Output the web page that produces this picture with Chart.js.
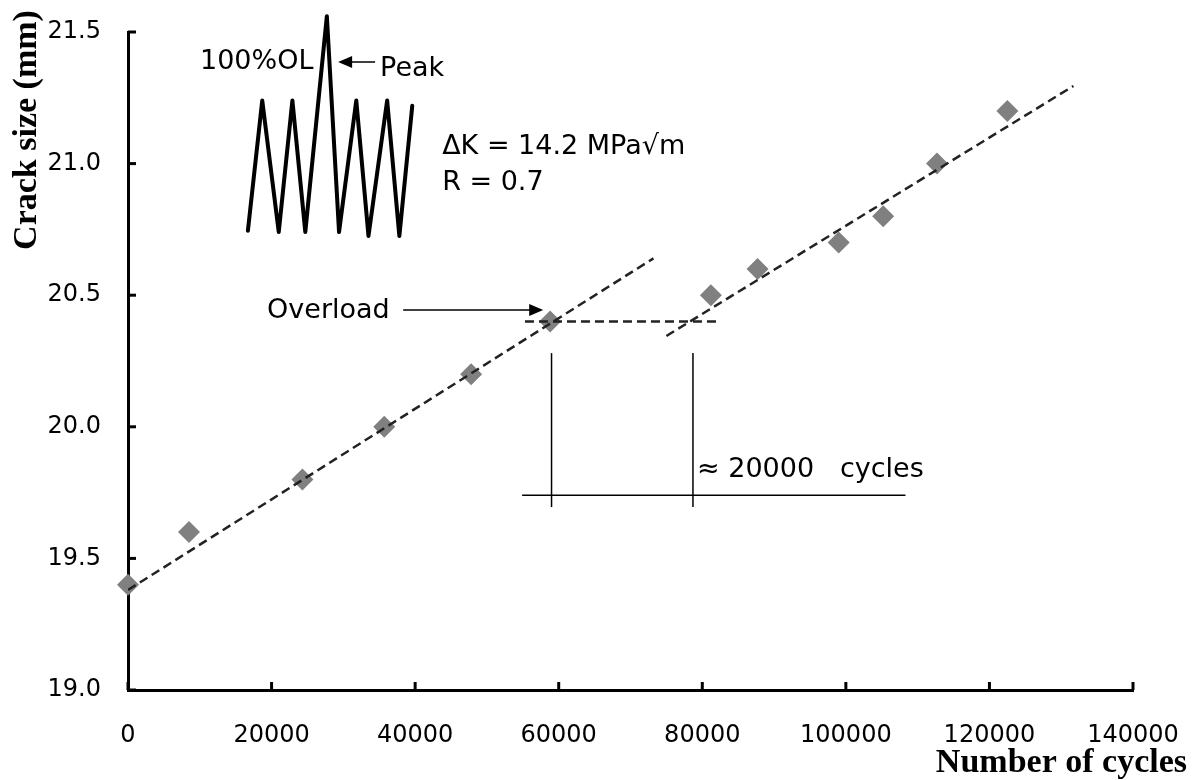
<!DOCTYPE html>
<html>
<head>
<meta charset="utf-8">
<script src="https://cdn.jsdelivr.net/npm/chart.js@4.4.0/dist/chart.umd.min.js"></script>
<style>
  html, body { margin: 0; padding: 0; background: #fff; }
</style>
</head>
<body>
<canvas id="chart" width="1194" height="780"></canvas>
<script>
// measured crack size vs. number of cycles
const cycles    = [0, 8500, 24300, 35700, 47800, 58800, 81200, 87700, 99000, 105200, 112700, 122500];
const crackSize = [19.4, 19.6, 19.8, 20.0, 20.2, 20.4, 20.5, 20.6, 20.7, 20.8, 21.0, 21.2];

// dashed trend lines, before and after the overload
const fitBeforeX = [0, 73200];
const fitBeforeY = [19.38, 20.64];
const fitAfterX  = [75000, 131700];
const fitAfterY  = [20.345, 21.295];
const levelX     = [55300, 82100];
const levelY     = [20.4, 20.4];

// delay markers (~20000 cycles)
const delayX = [59000, 78700];
const delayY = [19.695, 20.28];
const spanX  = [54900, 108300];
const spanY  = 19.74;

// load sequence sketch, in chart units
const waveX = [16700, 18700, 21000, 22900, 24700, 27700, 29400, 31800, 33500, 36100, 37800, 39600];
const waveY = [20.745, 21.24, 20.74, 21.24, 20.74, 21.56, 20.74, 21.24, 20.725, 21.24, 20.725, 21.22];

const xTicks = [0, 20000, 40000, 60000, 80000, 100000, 120000, 140000];
const yTicks = [19.0, 19.5, 20.0, 20.5, 21.0, 21.5];

const notes = [
    { text: '100%OL', x: 10030, y: 21.386 },
    { text: 'Peak', x: 35120, y: 21.36 },
    { text: '\u0394K = 14.2 MPa\u221Am', x: 43760, y: 21.063 },
    { text: 'R = 0.7', x: 43760, y: 20.926 },
    { text: 'Overload', x: 19370, y: 20.44 },
    { text: '\u2248 20000   cycles', x: 79270, y: 19.836 }
];
const arrows = [
    { from: [38330, 20.444], to: [57840, 20.444] },
    { from: [34420, 21.386], to: [29270, 21.386] }
];

const pts = (xs, ys) => xs.map((v, i) => ({ x: v, y: Array.isArray(ys) ? ys[i] : ys }));

const dashed = { showLine: true, pointRadius: 0, borderColor: '#222', borderWidth: 2.5, borderDash: [9, 5], order: 1 };
const solid  = { showLine: true, pointRadius: 0, borderColor: '#000', borderWidth: 1.5, order: 1 };

const decorations = {
    id: 'decorations',
    afterDatasetsDraw(chart) {
        const { ctx, chartArea } = chart;
        const xs = chart.scales.x, ys = chart.scales.y;
        const px = v => xs.getPixelForValue(v);
        const py = v => ys.getPixelForValue(v);
        ctx.save();

        // inward tick marks
        ctx.strokeStyle = '#000';
        ctx.lineWidth = 3;
        xTicks.forEach(v => {
            ctx.beginPath();
            ctx.moveTo(px(v), chartArea.bottom);
            ctx.lineTo(px(v), chartArea.bottom - 8);
            ctx.stroke();
        });
        yTicks.forEach(v => {
            ctx.beginPath();
            ctx.moveTo(chartArea.left, py(v));
            ctx.lineTo(chartArea.left + 8, py(v));
            ctx.stroke();
        });

        // arrows
        ctx.lineWidth = 1.5;
        ctx.fillStyle = '#000';
        arrows.forEach(a => {
            const x0 = px(a.from[0]), y0 = py(a.from[1]);
            const x1 = px(a.to[0]), y1 = py(a.to[1]);
            const dir = Math.sign(x1 - x0);
            ctx.beginPath();
            ctx.moveTo(x0, y0);
            ctx.lineTo(x1 - dir * 10, y1);
            ctx.stroke();
            ctx.beginPath();
            ctx.moveTo(x1, y1);
            ctx.lineTo(x1 - dir * 14, y1 - 6);
            ctx.lineTo(x1 - dir * 14, y1 + 6);
            ctx.closePath();
            ctx.fill();
        });

        // annotations
        ctx.font = '27px "DejaVu Sans"';
        ctx.textAlign = 'left';
        ctx.textBaseline = 'middle';
        notes.forEach(n => ctx.fillText(n.text, px(n.x), py(n.y)));

        // axis titles
        ctx.font = 'bold 34px "Liberation Serif"';
        ctx.textAlign = 'right';
        ctx.textBaseline = 'alphabetic';
        ctx.fillText('Number of cycles', 1187, 772);
        ctx.translate(36, 130);
        ctx.rotate(-Math.PI / 2);
        ctx.textAlign = 'center';
        ctx.fillText('Crack size (mm)', 0, 0);
        ctx.restore();
    }
};

new Chart(document.getElementById('chart'), {
    type: 'scatter',
    data: {
        datasets: [
            {
                label: 'Crack size',
                data: pts(cycles, crackSize),
                pointStyle: 'rectRot',
                pointRadius: 11,
                pointHoverRadius: 11,
                backgroundColor: '#808080',
                borderColor: '#808080',
                borderWidth: 0,
                clip: false,
                order: 2
            },
            { ...dashed, data: pts(fitBeforeX, fitBeforeY) },
            { ...dashed, data: pts(fitAfterX, fitAfterY) },
            { ...dashed, data: pts(levelX, levelY) },
            { ...solid, data: pts([delayX[0], delayX[0]], delayY) },
            { ...solid, data: pts([delayX[1], delayX[1]], delayY) },
            { ...solid, data: pts(spanX, spanY) },
            {
                data: pts(waveX, waveY),
                showLine: true,
                pointRadius: 0,
                borderColor: '#000',
                borderWidth: 4,
                borderJoinStyle: 'round',
                borderCapStyle: 'round',
                clip: false,
                order: 1
            }
        ]
    },
    options: {
        responsive: false,
        animation: false,
        events: [],
        layout: { padding: { top: 32, right: 61, left: 0, bottom: 0 } },
        plugins: {
            legend: { display: false },
            tooltip: { enabled: false }
        },
        scales: {
            x: {
                type: 'linear',
                min: 0,
                max: 140000,
                afterFit: (scale) => {
                    scale.height = 90;
                    scale.paddingLeft = 0;
                    scale.paddingRight = 0;
                },
                afterBuildTicks: (scale) => {
                    scale.ticks = xTicks.map(v => ({ value: v }));
                },
                grid: { display: false, drawTicks: false },
                border: { display: true, color: '#000', width: 3 },
                ticks: {
                    padding: 31,
                    color: '#000',
                    font: { family: '"DejaVu Sans"', size: 24 },
                    maxRotation: 0,
                    callback: (v) => String(v)
                }
            },
            y: {
                type: 'linear',
                min: 19.0,
                max: 21.5,
                afterFit: (scale) => {
                    scale.width = 128;
                    scale.paddingTop = 0;
                    scale.paddingBottom = 0;
                },
                afterBuildTicks: (scale) => {
                    scale.ticks = yTicks.map(v => ({ value: v }));
                },
                grid: { display: false, drawTicks: false },
                border: { display: true, color: '#000', width: 3 },
                ticks: {
                    padding: 27,
                    color: '#000',
                    font: { family: '"DejaVu Sans"', size: 24 },
                    callback: (v) => v.toFixed(1)
                }
            }
        }
    },
    plugins: [decorations]
});
</script>
</body>
</html>
